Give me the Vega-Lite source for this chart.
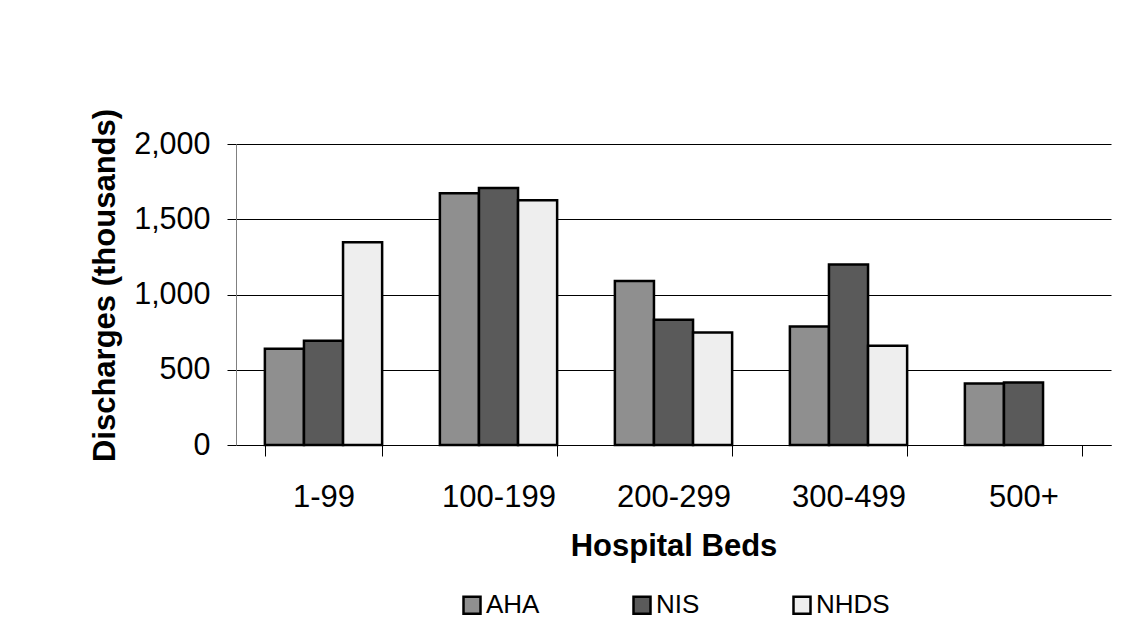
{
  "$schema": "https://vega.github.io/schema/vega-lite/v6.json",
  "width": 875,
  "height": 301,
  "autosize": {"type": "none"},
  "padding": {"left": 236, "top": 144, "right": 11, "bottom": 197},
  "background": "white",
  "config": {
    "font": "Liberation Sans",
    "view": {"stroke": null}
  },
  "data": {
    "values": [
      {"beds": "1-99", "source": "AHA", "discharges": 640},
      {"beds": "1-99", "source": "NIS", "discharges": 692},
      {"beds": "1-99", "source": "NHDS", "discharges": 1347},
      {"beds": "100-199", "source": "AHA", "discharges": 1673},
      {"beds": "100-199", "source": "NIS", "discharges": 1707},
      {"beds": "100-199", "source": "NHDS", "discharges": 1627},
      {"beds": "200-299", "source": "AHA", "discharges": 1090},
      {"beds": "200-299", "source": "NIS", "discharges": 832},
      {"beds": "200-299", "source": "NHDS", "discharges": 748},
      {"beds": "300-499", "source": "AHA", "discharges": 787},
      {"beds": "300-499", "source": "NIS", "discharges": 1200},
      {"beds": "300-499", "source": "NHDS", "discharges": 659},
      {"beds": "500+", "source": "AHA", "discharges": 408},
      {"beds": "500+", "source": "NIS", "discharges": 416}
    ]
  },
  "mark": {"type": "bar", "stroke": "black", "strokeWidth": 2.5},
  "encoding": {
    "x": {
      "field": "beds",
      "type": "nominal",
      "sort": ["1-99", "100-199", "200-299", "300-499", "500+"],
      "scale": {"paddingInner": 0.33, "paddingOuter": 0.165},
      "axis": {
        "title": "Hospital Beds",
        "titleFontSize": 31,
        "titleFontWeight": "bold",
        "titleColor": "black",
        "titleX": 437.5,
        "titleY": 110,
        "titleAlign": "center",
        "titleBaseline": "alphabetic",
        "labelFontSize": 31,
        "labelColor": "black",
        "labelAngle": 0,
        "labelPadding": 26,
        "tickBand": "extent",
        "tickSize": 11,
        "tickColor": "black",
        "domainColor": "black",
        "grid": false
      }
    },
    "xOffset": {
      "field": "source",
      "type": "nominal",
      "sort": ["AHA", "NIS", "NHDS"],
      "scale": {"paddingInner": 0, "paddingOuter": 0}
    },
    "y": {
      "field": "discharges",
      "type": "quantitative",
      "scale": {"domain": [0, 2000], "nice": false},
      "axis": {
        "title": "Discharges (thousands)",
        "titleFontSize": 31,
        "titleFontWeight": "bold",
        "titleColor": "black",
        "titleX": -122,
        "titleY": 141,
        "titleAngle": -90,
        "titleAlign": "center",
        "titleBaseline": "alphabetic",
        "values": [0, 500, 1000, 1500, 2000],
        "format": ",d",
        "labelFontSize": 30.5,
        "labelColor": "black",
        "labelPadding": 17,
        "tickSize": 9,
        "tickColor": "black",
        "domainColor": "#808080",
        "grid": true,
        "gridColor": "black",
        "gridWidth": 1
      }
    },
    "fill": {
      "field": "source",
      "type": "nominal",
      "sort": ["AHA", "NIS", "NHDS"],
      "scale": {"domain": ["AHA", "NIS", "NHDS"], "range": ["#8f8f8f", "#5a5a5a", "#eeeeee"]},
      "legend": {
        "title": null,
        "orient": "none",
        "direction": "horizontal",
        "legendX": 223,
        "legendY": 448,
        "symbolType": "square",
        "symbolSize": 289,
        "symbolStrokeColor": "black",
        "symbolStrokeWidth": 2.5,
        "symbolOpacity": 1,
        "labelFontSize": 26,
        "labelColor": "black",
        "labelOffset": 1,
        "columnPadding": 88
      }
    }
  }
}
